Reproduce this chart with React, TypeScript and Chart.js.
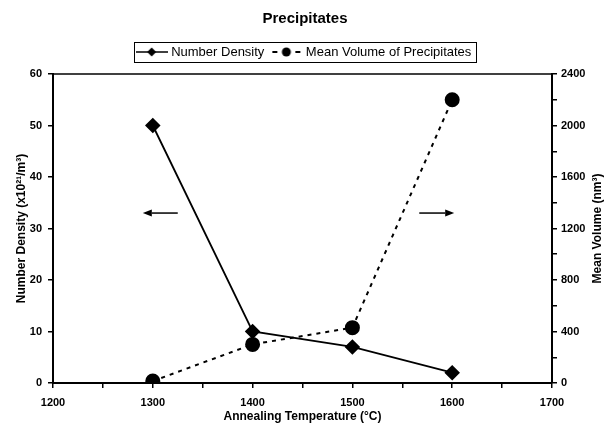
import React, { useEffect, useRef } from "react";
import { Chart, registerables } from "chart.js";

Chart.register(...registerables);

const temperatures = [1300, 1400, 1500, 1600];
const numberDensity = [50, 10, 7, 2];
const meanVolume = [15, 300, 430, 2200];

const xTickStep = 50;
const xLabelStep = 100;
const rightTickStep = 200;
const rightLabelStep = 400;

// arrow annotations in data units (x: temperature, y: left axis)
const leftArrowX = [1325, 1290];
const rightArrowX = [1567, 1602];
const arrowLevel = 33;

const FONT = "'Liberation Sans', Arial, Helvetica, sans-serif";

function makeSample(kind: "diamond" | "circle"): HTMLCanvasElement {
  const c = document.createElement("canvas");
  c.width = 32;
  c.height = 14;
  const ctx = c.getContext("2d")!;
  ctx.strokeStyle = "#000";
  ctx.fillStyle = "#000";
  const cy = 7;
  if (kind === "diamond") {
    ctx.lineWidth = 1.5;
    ctx.beginPath();
    ctx.moveTo(0, cy);
    ctx.lineTo(32, cy);
    ctx.stroke();
    const r = 4.5;
    ctx.beginPath();
    ctx.moveTo(16 - r, cy);
    ctx.lineTo(16, cy - r);
    ctx.lineTo(16 + r, cy);
    ctx.lineTo(16, cy + r);
    ctx.closePath();
    ctx.fill();
  } else {
    ctx.lineWidth = 2;
    ctx.beginPath();
    ctx.moveTo(2, cy);
    ctx.lineTo(7, cy);
    ctx.moveTo(25, cy);
    ctx.lineTo(30, cy);
    ctx.stroke();
    ctx.beginPath();
    ctx.arc(16, cy, 4.5, 0, Math.PI * 2);
    ctx.fill();
  }
  return c;
}

const decorPlugin = {
  id: "decor",
  afterDraw(chart: any) {
    const ctx = chart.ctx as CanvasRenderingContext2D;
    const { left, right, top, bottom } = chart.chartArea;
    const xs = chart.scales.x;
    const ys = chart.scales.y;
    ctx.save();
    // top frame line
    ctx.strokeStyle = "#000";
    ctx.lineWidth = 1.5;
    ctx.beginPath();
    ctx.moveTo(left, top);
    ctx.lineTo(right, top);
    ctx.stroke();

    // arrows
    const drawArrow = (x0: number, x1: number, yv: number) => {
      const px0 = xs.getPixelForValue(x0);
      const px1 = xs.getPixelForValue(x1);
      const py = ys.getPixelForValue(yv);
      const dir = Math.sign(px1 - px0);
      const head = 9;
      ctx.lineWidth = 1.5;
      ctx.beginPath();
      ctx.moveTo(px0, py);
      ctx.lineTo(px1 - dir * head, py);
      ctx.stroke();
      ctx.beginPath();
      ctx.moveTo(px1, py);
      ctx.lineTo(px1 - dir * head, py - 3.5);
      ctx.lineTo(px1 - dir * head, py + 3.5);
      ctx.closePath();
      ctx.fill();
    };
    ctx.fillStyle = "#000";
    drawArrow(leftArrowX[0], leftArrowX[1], arrowLevel);
    drawArrow(rightArrowX[0], rightArrowX[1], arrowLevel);

    // right axis title (reads bottom to top)
    ctx.font = `bold 12px ${FONT}`;
    ctx.textAlign = "center";
    ctx.textBaseline = "middle";
    ctx.translate(598, (top + bottom) / 2);
    ctx.rotate(-Math.PI / 2);
    ctx.fillText("Mean Volume (nm³)", 0, 0);
    ctx.restore();

    // legend frame
    const boxes = chart.legend?.legendHitBoxes;
    if (boxes && boxes.length) {
      const first = boxes[0];
      const last = boxes[boxes.length - 1];
      const x0 = first.left - 5;
      const x1 = last.left + last.width + 4;
      const y0 = first.top - 4;
      const y1 = first.top + first.height + 3;
      ctx.save();
      ctx.strokeStyle = "#000";
      ctx.lineWidth = 1;
      ctx.strokeRect(Math.round(x0) + 0.5, Math.round(y0) + 0.5, Math.round(x1 - x0), Math.round(y1 - y0));
      ctx.restore();
    }
  },
};

export default function App() {
  const ref = useRef<HTMLCanvasElement | null>(null);

  useEffect(() => {
    if (!ref.current) return;
    const samples = [makeSample("diamond"), makeSample("circle")];
    const tickFont = { family: FONT, size: 11, weight: "bold" as const };
    const titleFont = { family: FONT, size: 12, weight: "bold" as const };

    const chart = new Chart(ref.current, {
      type: "line",
      data: {
        datasets: [
          {
            label: "Number Density",
            data: temperatures.map((t, i) => ({ x: t, y: numberDensity[i] })),
            borderColor: "#000",
            backgroundColor: "#000",
            borderWidth: 1.8,
            pointStyle: "rectRot",
            pointRadius: 6.5,
            pointHoverRadius: 6.5,
            tension: 0,
            yAxisID: "y",
          },
          {
            label: "Mean Volume of Precipitates",
            data: temperatures.map((t, i) => ({ x: t, y: meanVolume[i] })),
            borderColor: "#000",
            backgroundColor: "#000",
            borderWidth: 2,
            borderDash: [4, 5],
            pointStyle: "circle",
            pointRadius: 6.5,
            pointHoverRadius: 6.5,
            tension: 0,
            yAxisID: "y1",
          },
        ],
      },
      options: {
        animation: false,
        responsive: false,
        devicePixelRatio: 1,
        layout: { padding: 0 },
        events: [],
        plugins: {
          title: {
            display: true,
            text: "Precipitates",
            color: "#000",
            font: { family: FONT, size: 15, weight: "bold" },
            padding: { top: 10, bottom: 8.5 },
          },
          subtitle: {
            display: true,
            text: "",
            weight: 500,
            font: { size: 1, lineHeight: 1 },
            padding: { top: 0, bottom: 4.5 },
          } as any,
          legend: {
            display: true,
            position: "top",
            labels: {
              usePointStyle: true,
              pointStyleWidth: 26,
              padding: 9,
              color: "#000",
              font: { family: FONT, size: 13 },
              generateLabels: (c: any) =>
                c.data.datasets.map((ds: any, i: number) => ({
                  text: ds.label,
                  pointStyle: samples[i],
                  fillStyle: "#000",
                  strokeStyle: "#000",
                  lineWidth: 0,
                  hidden: false,
                  datasetIndex: i,
                  fontColor: "#000",
                })),
            },
          },
          tooltip: { enabled: false },
        },
        scales: {
          x: {
            type: "linear",
            min: 1200,
            max: 1700,
            afterFit: (s: any) => {
              s.height = 48;
            },
            border: { display: true, color: "#000", width: 2 },
            grid: { drawOnChartArea: false, color: "#000", lineWidth: 1.5, tickLength: 5 },
            ticks: {
              stepSize: xTickStep,
              color: "#000",
              font: tickFont,
              padding: 8,
              maxRotation: 0,
              autoSkip: false,
              callback: (v: any) => (Number(v) % xLabelStep === 0 ? String(v) : ""),
            },
            title: {
              display: true,
              text: "Annealing Temperature (°C)",
              color: "#000",
              font: titleFont,
              padding: { top: 0, bottom: 7 },
            },
          },
          y: {
            type: "linear",
            position: "left",
            min: 0,
            max: 60,
            afterFit: (s: any) => {
              s.width = 53;
            },
            border: { display: true, color: "#000", width: 2 },
            grid: { drawOnChartArea: false, color: "#000", lineWidth: 1.5, tickLength: 5 },
            ticks: { stepSize: 10, color: "#000", font: tickFont, padding: 6 },
            title: {
              display: true,
              text: "Number Density (x10²¹/m³)",
              color: "#000",
              font: titleFont,
              padding: { top: 14, bottom: 0 },
            },
          },
          y1: {
            type: "linear",
            position: "right",
            min: 0,
            max: 2400,
            afterFit: (s: any) => {
              s.width = 58;
            },
            border: { display: true, color: "#000", width: 2 },
            grid: { drawOnChartArea: false, color: "#000", lineWidth: 1.5, tickLength: 5 },
            ticks: {
              stepSize: rightTickStep,
              color: "#000",
              font: tickFont,
              padding: 4,
              autoSkip: false,
              callback: (v: any) => (Number(v) % rightLabelStep === 0 ? String(v) : ""),
            },
            title: { display: false },
          },
        },
      },
      plugins: [decorPlugin],
    });
    return () => chart.destroy();
  }, []);

  return (
    <div style={{ position: "fixed", left: 0, top: 0, width: 610, height: 431, background: "#fff" }}>
      <canvas ref={ref} width={610} height={431} style={{ width: 610, height: 431, display: "block" }} />
    </div>
  );
}
